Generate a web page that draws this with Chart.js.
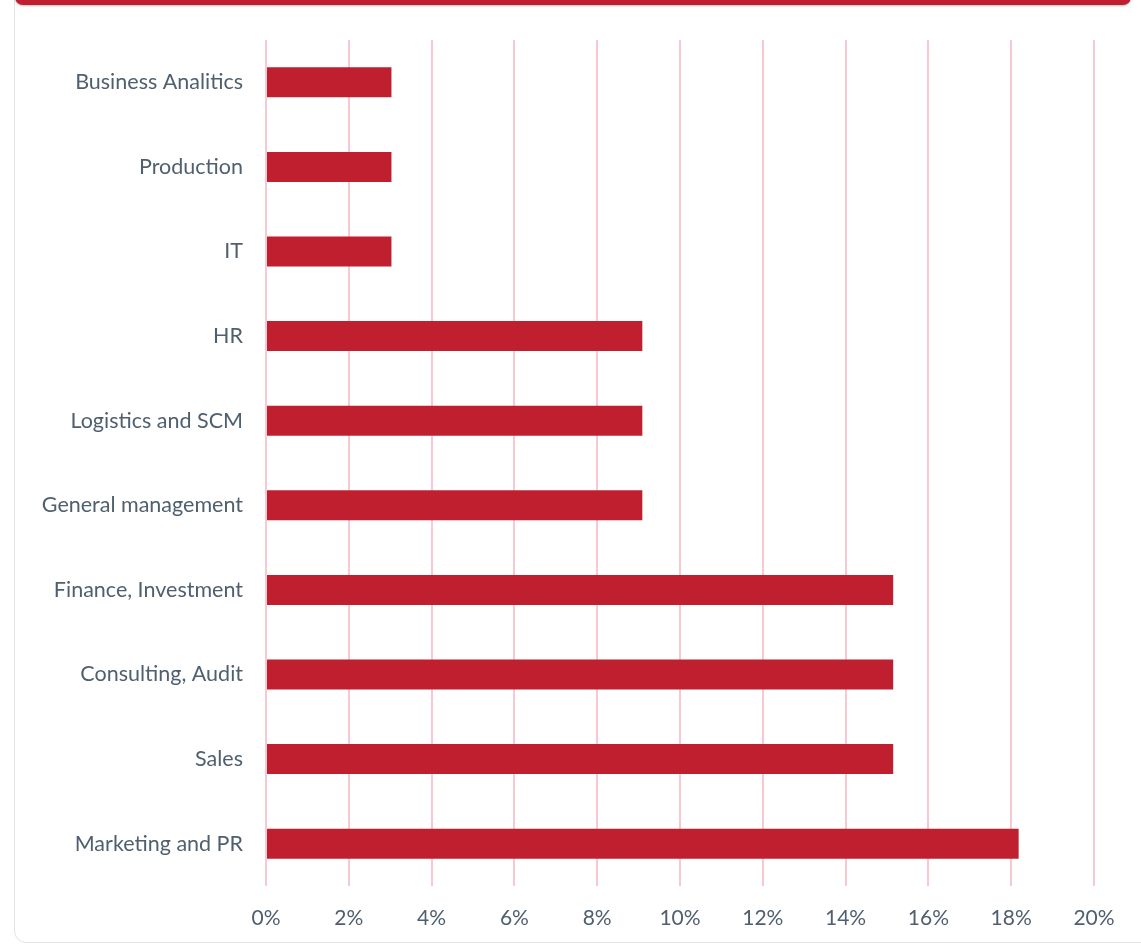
<!DOCTYPE html>
<html>
<head>
<meta charset="utf-8">
<script src="https://cdn.jsdelivr.net/npm/chart.js@4"></script>
<style>
  html, body { margin: 0; padding: 0; background: #fff; overflow: hidden; }
  #page { position: relative; width: 1141px; height: 945px; }
  .card {
    position: absolute; left: 14px; top: -20px; width: 1150px; height: 963px;
    border: 1.5px solid #dfe4ea; border-radius: 12px; box-sizing: border-box; background: #fff;
  }
  .band {
    position: absolute; left: 15px; top: -20px; width: 1116px; height: 25px;
    background: #c01f2f; border-radius: 8px; box-shadow: 0 1px 2px rgba(0,0,0,0.25);
  }
  #wrap { position: absolute; left: 0; top: 0; width: 1141px; height: 945px; }
</style>
</head>
<body>
<div id="page">
  <div class="card"></div>
  <div class="band"></div>
  <div id="wrap"><canvas id="grafica"></canvas></div>
</div>
<script>
// ========== DATA ==========
const categorias = [
  "Business Analitics", "Production", "IT", "HR", "Logistics and SCM",
  "General management", "Finance, Investment", "Consulting, Audit", "Sales", "Marketing and PR"
];
const porcentajes = [3.03, 3.03, 3.03, 9.09, 9.09, 9.09, 15.15, 15.15, 15.15, 18.18];
const ejeMin = 0;
const ejeMax = 20;
const ejePaso = 2;

// ========== GRAFICA ==========
const ctx = document.getElementById("grafica");
new Chart(ctx, {
  type: "bar",
  data: {
    labels: categorias,
    datasets: [{
      data: porcentajes,
      backgroundColor: "#c01f2f",
      borderWidth: 0,
      categoryPercentage: 0.8,
      barPercentage: 0.443
    }]
  },
  options: {
    indexAxis: "y",
    responsive: true,
    maintainAspectRatio: false,
    animation: false,
    layout: { padding: { left: 0, top: 40, right: 47, bottom: 0 } },
    plugins: { legend: { display: false }, tooltip: { enabled: false } },
    scales: {
      x: {
        min: ejeMin, max: ejeMax,
        border: { display: false },
        grid: { color: "#f8c9cf", lineWidth: 2, drawTicks: false },
        ticks: {
          stepSize: ejePaso, padding: 20,
          color: "#4f5f6f",
          font: { family: "Lato", size: 21 },
          callback: v => v + "%"
        },
        afterFit: s => { s.height = 59; }
      },
      y: {
        border: { display: false },
        grid: { display: false, drawTicks: false },
        ticks: {
          padding: 23,
          color: "#4f5f6f",
          font: { family: "Lato", size: 21.5 }
        },
        afterFit: s => { s.width = 266; }
      }
    }
  }
});
</script>
</body>
</html>
